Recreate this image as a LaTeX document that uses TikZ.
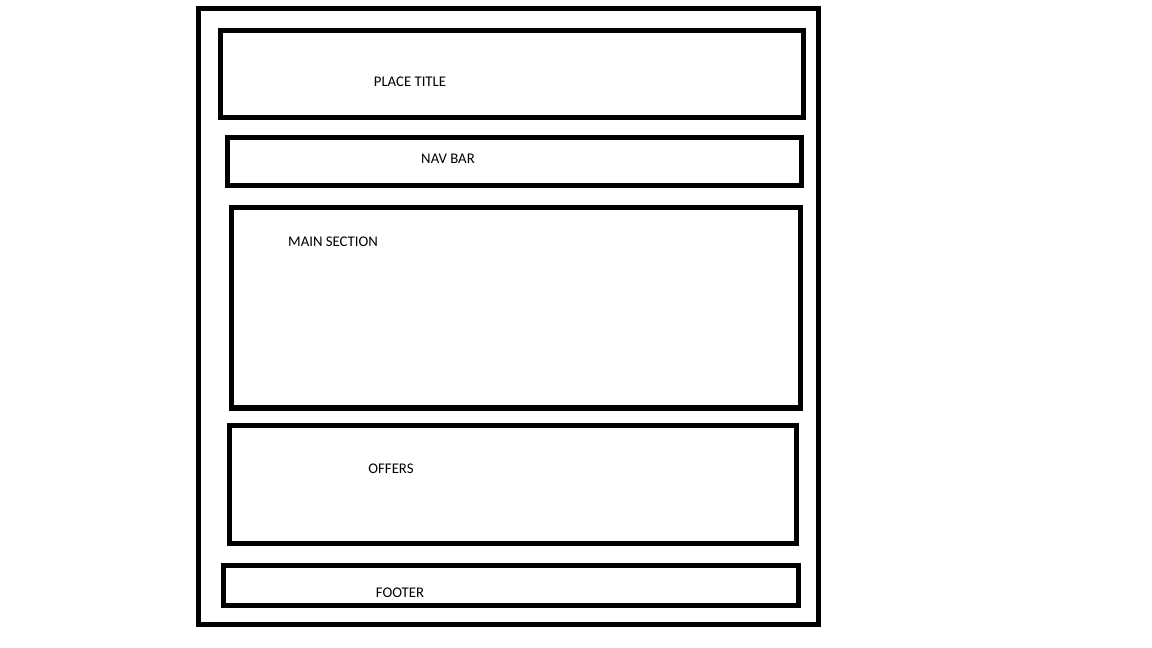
\documentclass[tikz,border=0pt]{standalone}
\usepackage{fontspec}
\setmainfont{Carlito}

\tikzset{
  box/.style={line width=2.85pt},
  boxlabel/.style={font=\fontsize{8.4}{10}\selectfont, inner sep=0pt}
}

\begin{document}
\begin{tikzpicture}[x=0.02cm, y=-0.02cm]
        \useasboundingbox (0,0) rectangle (1152,648);
        % page frame
        \draw[box] (198.5,8.5) rectangle (818.5,624);
        % sections
        \draw[box] (220.5,30.5) rectangle (803.5,117.5);
        \draw[box] (227.5,137.5) rectangle (801.5,185.5);
        \draw[box] (231.5,207.5) rectangle (800,408);
        \draw[box] (229.5,425.5) rectangle (796.5,543.5);
        \draw[box] (223.5,565.5) rectangle (798.5,605.5);
        % labels
        \node[boxlabel] (title) at (410,82) {PLACE TITLE};
        \node[boxlabel] (nav) at (448,159) {NAV BAR};
        \node[boxlabel] (main) at (333,242) {MAIN SECTION};
        \node[boxlabel] (offers) at (391,469) {OFFERS};
        \node[boxlabel] (footer) at (400,593) {FOOTER};
    \end{tikzpicture}
\end{document}
